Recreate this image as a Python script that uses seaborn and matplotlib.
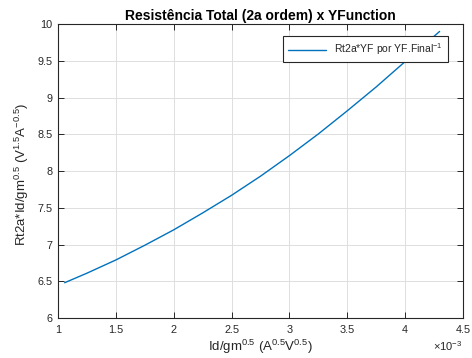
import pandas as pd
import matplotlib
matplotlib.use("Agg")
import matplotlib.pyplot as plt
from matplotlib.ticker import FormatStrFormatter
import seaborn as sns

# valores (x em A^0.5 V^0.5)
id_gm = [1.057e-3, 1.25e-3, 1.5e-3, 1.75e-3, 2.0e-3, 2.25e-3, 2.5e-3, 2.75e-3,
         3.0e-3, 3.25e-3, 3.5e-3, 3.75e-3, 4.0e-3, 4.298e-3]
rt2a = [6.48, 6.61, 6.79, 6.99, 7.20, 7.43, 7.67, 7.93,
        8.21, 8.505, 8.82, 9.145, 9.49, 9.90]

x_ticks = [1.0, 1.5, 2.0, 2.5, 3.0, 3.5, 4.0, 4.5]  # em unidades de 1e-3
y_ticks = [6, 6.5, 7, 7.5, 8, 8.5, 9, 9.5, 10]

sns.set_theme(style="whitegrid")
plt.rcParams["font.family"] = ["Liberation Sans", "DejaVu Sans"]
plt.rcParams["mathtext.fontset"] = "custom"
plt.rcParams["mathtext.rm"] = "Liberation Sans"
plt.rcParams["mathtext.it"] = "Liberation Sans:italic"

dark = "#262626"
fig = plt.figure(figsize=(4.72, 3.58), dpi=100)
ax = fig.add_axes([0.1229, 0.1117, 0.858, 0.821])

df = pd.DataFrame({"x": [v * 1e3 for v in id_gm], "y": rt2a})
sns.lineplot(data=df, x="x", y="y", ax=ax, color="#0072BD", linewidth=1.0,
             label="Rt2a*YF por YF.Final$^{-1}$")

ax.set_xlim(1.0, 4.5)
ax.set_ylim(6, 10)
ax.set_xticks(x_ticks)
ax.set_yticks(y_ticks)
ax.xaxis.set_major_formatter(FormatStrFormatter("%g"))
ax.yaxis.set_major_formatter(FormatStrFormatter("%g"))

ax.grid(True, color="#dedede", linewidth=0.7)
for s in ax.spines.values():
    s.set_color(dark)
    s.set_linewidth(0.8)
    s.set_visible(True)
ax.tick_params(direction="in", length=4, width=0.7, colors=dark, labelsize=7.8,
               top=True, right=True, bottom=True, left=True, pad=4)
ax.tick_params(axis="x", pad=5)

ax.set_title("Resistência Total (2a ordem) x YFunction", fontsize=10,
             fontweight="bold", color="black", pad=3)
ax.set_xlabel("Id/gm$^{0.5}$ (A$^{0.5}$V$^{0.5}$)", fontsize=9.5, color=dark)
ax.set_ylabel("Rt2a*Id/gm$^{0.5}$ (V$^{1.5}$A$^{-0.5}$)", fontsize=9.5, color=dark)
ax.xaxis.set_label_coords(0.5, -0.068)
ax.yaxis.set_label_coords(-0.066, 0.49)

# multiplicador do eixo x
ax.text(0.998, -0.072, r"$\times$10$^{-3}$", transform=ax.transAxes,
        ha="right", va="top", fontsize=8, color=dark)

leg = ax.legend(loc="upper right", fontsize=7.5, frameon=True, fancybox=False,
                framealpha=1, edgecolor=dark, borderpad=0.5, borderaxespad=0,
                handlelength=3.6, bbox_to_anchor=(0.963, 0.959))
leg.get_frame().set_linewidth(0.8)
for t in leg.get_texts():
    t.set_color(dark)

fig.savefig("out.png", dpi=100)
